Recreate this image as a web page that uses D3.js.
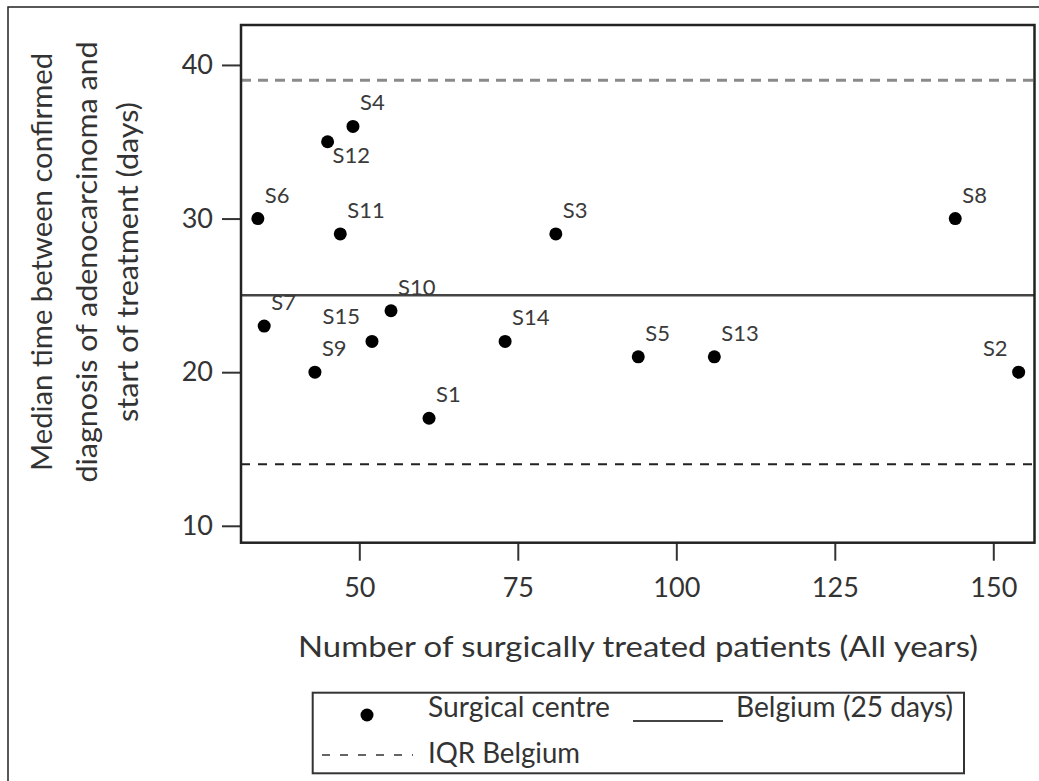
<!DOCTYPE html>
<html>
<head>
    <meta charset="UTF-8">
    <title>Median time to treatment by surgical centre</title>
    <style>
        body {
            margin: 0;
            background-color: white;
            font-family: Lato, "Open Sans", Arial, sans-serif;
        }
        svg {
            display: block;
        }
        .tick text {
            fill: #333;
            font-size: 27px;
        }
        .tick line {
            stroke: #333;
            stroke-width: 2px;
        }
        .pointLabel {
            fill: #3a3a3a;
            font-size: 22px;
        }
        .title {
            fill: #333;
            font-size: 28px;
        }
    </style>
</head>
<body>
    <svg id="chart" width="1039" height="781"></svg>

    <script src="https://d3js.org/d3.v7.min.js"></script>
    <script>
        // Data
        var centres  = ["S1", "S2", "S3", "S4", "S5", "S6", "S7", "S8", "S9", "S10", "S11", "S12", "S13", "S14", "S15"];
        var patients = [61, 154, 81, 49, 94, 34, 35, 144, 43, 55, 47, 45, 106, 73, 52];
        var medianDays = [17, 20, 29, 36, 21, 30, 23, 30, 20, 24, 29, 35, 21, 22, 22];

        var belgiumMedian = 25;
        var iqrBelgium = [14, 39];

        var xTicks = [50, 75, 100, 125, 150];
        var yTicks = [10, 20, 30, 40];

        var yTitleLines = ["Median time between confirmed",
                           "diagnosis of adenocarcinoma and",
                           "start of treatment (days)"];
        var xTitle = "Number of surgically treated patients (All years)";

        // where labels sit relative to their dot (most go up-right)
        var labelSpots = {
            "S12": { dx: 5, dy: 21, anchor: "start" },
            "S15": { dx: -12, dy: -17, anchor: "end" },
            "S2": { dx: -11, dy: -16, anchor: "end" }
        };

        var svg = d3.select("#chart");

        // outer figure border (runs off the right/bottom edge)
        svg.append("rect")
            .attr("x", 8).attr("y", 7)
            .attr("width", 1060).attr("height", 800)
            .attr("fill", "white")
            .attr("stroke", "#222")
            .attr("stroke-width", 1.5);

        var plot = { left: 241, right: 1034.5, top: 25, bottom: 542.7 };

        var x = d3.scaleLinear().domain([31.34, 156.5]).range([plot.left, plot.right]);
        var y = d3.scaleLinear().domain([8.9, 42.6]).range([plot.bottom, plot.top]);

        // axes
        var yAxis = svg.append("g")
            .attr("transform", "translate(" + plot.left + ",0)")
            .call(d3.axisLeft(y).tickValues(yTicks).tickSize(19).tickPadding(9));
        yAxis.select(".domain").remove();
        yAxis.selectAll("text").attr("font-family", "Lato");

        var xAxis = svg.append("g")
            .attr("transform", "translate(0," + plot.bottom + ")")
            .call(d3.axisBottom(x).tickValues(xTicks).tickSize(18).tickPadding(17));
        xAxis.select(".domain").remove();
        xAxis.selectAll("text").attr("font-family", "Lato");

        // reference lines
        svg.append("line")
            .attr("x1", plot.left).attr("x2", plot.right)
            .attr("y1", y(iqrBelgium[1])).attr("y2", y(iqrBelgium[1]))
            .attr("stroke", "#8a8a8a")
            .attr("stroke-width", 3)
            .attr("stroke-dasharray", "10,7");

        svg.append("line")
            .attr("x1", plot.left).attr("x2", plot.right)
            .attr("y1", y(iqrBelgium[0])).attr("y2", y(iqrBelgium[0]))
            .attr("stroke", "#222")
            .attr("stroke-width", 2)
            .attr("stroke-dasharray", "9,8");

        svg.append("line")
            .attr("x1", plot.left).attr("x2", plot.right)
            .attr("y1", y(belgiumMedian)).attr("y2", y(belgiumMedian))
            .attr("stroke", "#444")
            .attr("stroke-width", 2.5);

        // plot frame
        svg.append("rect")
            .attr("x", plot.left).attr("y", plot.top)
            .attr("width", plot.right - plot.left)
            .attr("height", plot.bottom - plot.top)
            .attr("fill", "none")
            .attr("stroke", "#222")
            .attr("stroke-width", 2.5);

        // points
        var points = centres.map(function(c, i) {
            return { name: c, n: patients[i], days: medianDays[i] };
        });

        svg.append("g").selectAll("circle")
            .data(points)
            .enter().append("circle")
            .attr("cx", function(d) { return x(d.n); })
            .attr("cy", function(d) { return y(d.days); })
            .attr("r", 6.5)
            .attr("fill", "black");

        svg.append("g").selectAll("text")
            .data(points)
            .enter().append("text")
            .attr("class", "pointLabel")
            .attr("x", function(d) {
                var s = labelSpots[d.name];
                return x(d.n) + (s ? s.dx : 7);
            })
            .attr("y", function(d) {
                var s = labelSpots[d.name];
                return y(d.days) + (s ? s.dy : -16);
            })
            .attr("text-anchor", function(d) {
                var s = labelSpots[d.name];
                return s ? s.anchor : "start";
            })
            .text(function(d) { return d.name; });

        // axis titles
        svg.append("text")
            .attr("class", "title")
            .attr("x", 298)
            .attr("y", 657)
            .attr("textLength", 680)
            .attr("lengthAdjust", "spacingAndGlyphs")
            .text(xTitle);

        var yTitleX = [52, 97, 138];
        var yTitleLen = [418, 441, 320];
        yTitleLines.forEach(function(line, i) {
            svg.append("text")
                .attr("class", "title")
                .attr("x", -yTitleLen[i] / 2)
                .attr("textLength", yTitleLen[i])
                .attr("lengthAdjust", "spacingAndGlyphs")
                .attr("transform", "translate(" + yTitleX[i] + ",262) rotate(-90)")
                .text(line);
        });

        // legend
        var legend = svg.append("g");
        legend.append("rect")
            .attr("x", 312.7).attr("y", 692.7)
            .attr("width", 964 - 312.7).attr("height", 773.3 - 692.7)
            .attr("fill", "white")
            .attr("stroke", "#333")
            .attr("stroke-width", 2);

        legend.append("circle")
            .attr("cx", 367).attr("cy", 715)
            .attr("r", 6.5)
            .attr("fill", "black");
        legend.append("text")
            .attr("class", "title")
            .attr("x", 428).attr("y", 717)
            .attr("textLength", 182)
            .attr("lengthAdjust", "spacingAndGlyphs")
            .text("Surgical centre");

        legend.append("line")
            .attr("x1", 633).attr("x2", 723)
            .attr("y1", 721).attr("y2", 721)
            .attr("stroke", "#444")
            .attr("stroke-width", 2);
        legend.append("text")
            .attr("class", "title")
            .attr("x", 736).attr("y", 717)
            .attr("textLength", 217)
            .attr("lengthAdjust", "spacingAndGlyphs")
            .text("Belgium (" + belgiumMedian + " days)");

        legend.append("line")
            .attr("x1", 322).attr("x2", 413)
            .attr("y1", 755).attr("y2", 755)
            .attr("stroke", "#333")
            .attr("stroke-width", 1.5)
            .attr("stroke-dasharray", "8,10");
        legend.append("text")
            .attr("class", "title")
            .attr("x", 428).attr("y", 763)
            .attr("textLength", 152)
            .attr("lengthAdjust", "spacingAndGlyphs")
            .text("IQR Belgium");
    </script>
</body>
</html>
